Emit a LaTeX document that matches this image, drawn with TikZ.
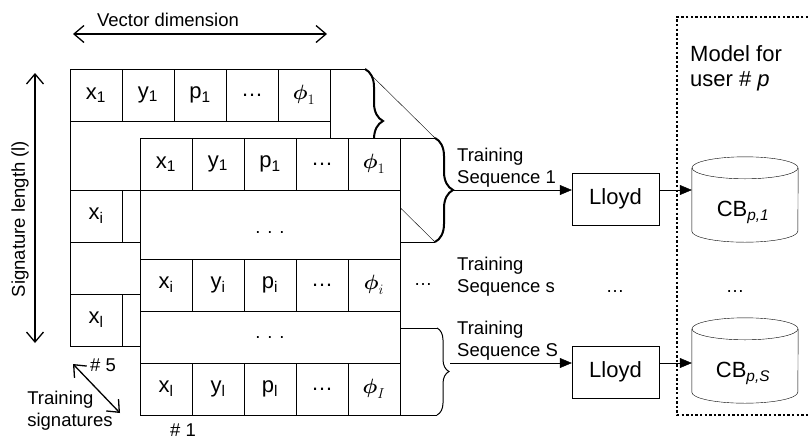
\documentclass[tikz,border=0pt]{standalone}
\usepackage{amsmath}
\usepackage{fontspec}
\setmainfont{Liberation Sans}
\usetikzlibrary{arrows.meta,decorations.pathreplacing,backgrounds}

\tikzset{
  txt/.style={font=\fontsize{18.5}{22}\selectfont, inner sep=0pt},
  big/.style={font=\fontsize{22}{25}\selectfont, inner sep=0pt},
  cell/.style={draw, big, minimum width=52pt, minimum height=52pt, fill=white},
  lloydbox/.style={draw, big, minimum width=87pt, minimum height=52pt},
  cbbox/.style={minimum width=106pt, minimum height=85pt, inner sep=0pt},
  arr/.style={-{Triangle[length=12pt,width=10pt]}},
  dimarrow/.style={line width=1.3pt, {Straight Barb[length=10pt,width=17pt]}-{Straight Barb[length=10pt,width=17pt]}},
  bigbrace/.style={decorate, decoration={brace, amplitude=18pt}, line width=2pt},
  smallbrace/.style={decorate, decoration={brace, amplitude=12pt}},
}

\begin{document}
\begin{tikzpicture}[x=1pt, y=-1pt, line width=1pt]
  \useasboundingbox (0,0) rectangle (808,440);

  % Draw the two signature cards, the back one first
  \foreach \s/\dx/\dy in {back/70/69, front/140/138} {
    \begin{scope}[shift={(\dx,\dy)}]
      \draw[fill=white] (0,0) rectangle (260,277);
      \foreach \y/\r/\f in {0/1/1, 121/i/i, 225/l/I} {
        \foreach \c [count=\k from 0] in {x,y,p}
          \node[cell] (\s-\c\r) at (26+52*\k,\y+26) {\c\textsubscript{\r}};
        \node[cell] (\s-d\r) at (182,\y+26) {…};
        \node[cell] (\s-phi\r) at (234,\y+26) {$\boldsymbol{\phi}_{\f}$};
      }

      % Braces for the training sequences
      \draw (260,0) -- (295,0) (260,104) -- (295,104);
      \draw[bigbrace] (295,0) -- (295,104);
      \coordinate (\s-bt) at (295,0);
      \coordinate (\s-bb) at (295,104);
      \coordinate (\s-tip) at (313,52);
      \draw (260,190) -- (297,190) (260,277) -- (297,277);
      \draw[smallbrace] (297,190) -- (297,277);
      \coordinate (\s-tip2) at (310,225);
    \end{scope}
  }
  \begin{pgfonlayer}{background}
    \draw (back-bt) -- (front-bt) (back-bb) -- (front-bb);
  \end{pgfonlayer}
  \node[txt] (gap1) at (270,233) {. . .};
  \node[txt] (gap2) at (270,338) {. . .};
  \node[txt] (more) at (423,285) {…};

  % Draw the dimension arrows
  \node[txt] (vecdim) at (168,20) {Vector dimension};
  \coordinate (vd-l) at (73,34);
  \coordinate (vd-r) at (327,34);
  \draw[dimarrow] (vd-l) -- (vd-r);
  \node[txt, rotate=90] (siglen) at (20,219) {Signature length (l)};
  \coordinate (sl-t) at (35,73);
  \coordinate (sl-b) at (35,343);
  \draw[dimarrow] (sl-t) -- (sl-b);
  \node[txt] (num5) at (103,365) {\# 5};
  \node[txt] (num1) at (183,430) {\# 1};
  \node[txt, align=left] (trsig) at (70,411) {Training\\signatures};
  \coordinate (ts-a) at (73,364);
  \coordinate (ts-b) at (120,413);
  \draw[dimarrow] (ts-a) -- (ts-b);

  % Training and the user model
  \node[txt, align=left, anchor=west] (seq1) at (457,168) {Training\\Sequence 1};
  \node[txt, align=left, anchor=west] (seqs) at (457,277) {Training\\Sequence s};
  \node[txt, align=left, anchor=west] (seqS) at (457,341) {Training\\Sequence S};
  \node[lloydbox] (lloyd1) at (615.5,199) {Lloyd};
  \node[lloydbox] (lloyd2) at (615.5,372) {Lloyd};
  \foreach \n/\cy/\sub in {cb1/199.5/1, cb2/360.5/S} {
    \node[cbbox] (\n) at (745,\cy) {};
    \draw ([yshift=-11pt]\n.north west) -- ([yshift=11pt]\n.south west)
      arc[start angle=180, end angle=0, x radius=53, y radius=11]
      -- ([yshift=-11pt]\n.north east);
    \draw ([yshift=-11pt]\n.north) ellipse [x radius=53, y radius=11];
    \node[big] (\n-text) at (743,\cy+13) {CB\textsubscript{\itshape p,\sub}};
  }
  \node[txt] (dots1) at (615,292) {…};
  \node[txt] (dots2) at (735,292) {…};
  \draw[arr] (front-tip) -- (front-tip -| lloyd1.west);
  \draw[arr] (lloyd1.east |- front-tip) -- (cb1.west |- front-tip);
  \draw[arr] (front-tip2) -- (front-tip2 -| lloyd2.west);
  \draw[arr] (lloyd2.east |- front-tip2) -- (cb2.west |- front-tip2);

  \draw[line width=2.4pt, dash pattern=on 2.4pt off 2.2pt] (808,17) -- (677,17) -- (677,415) -- (808,415);
  \node[big, align=left, anchor=west] (model) at (690,68.5) {Model for\\user \# \textit{p}};
\end{tikzpicture}
\end{document}
